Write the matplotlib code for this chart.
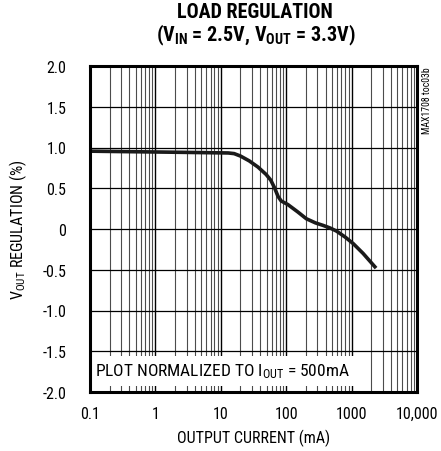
import matplotlib
matplotlib.use("Agg")
import matplotlib.pyplot as plt
from matplotlib import font_manager as fm

names = {f.name for f in fm.fontManager.ttflist}
def pick(cands, default="Liberation Sans"):
    for c in cands:
        if c in names:
            return c
    return default

body_font = pick(["Roboto Condensed", "Archivo Narrow", "PT Sans Narrow", "Barlow Semi Condensed", "Asap Condensed"])
title_font = pick(["Roboto Condensed", "Barlow Condensed", "Archivo Narrow", "Asap Condensed"])
plt.rcParams['font.family'] = [body_font, 'DejaVu Sans']

# data
current_mA = [0.1, 0.3, 1, 3, 8.4, 13, 16, 20, 27.2, 37, 49.2, 58, 66.2, 75, 83.8, 106, 150, 203, 280, 367, 470, 589, 800, 1061, 1500, 2366]
regulation = [0.955, 0.95, 0.945, 0.94, 0.935, 0.933, 0.925, 0.895, 0.836, 0.76, 0.67, 0.6, 0.507, 0.4, 0.344, 0.30, 0.21, 0.126, 0.075, 0.044, 0.012, -0.026, -0.1, -0.18, -0.30, -0.48]
xtick_vals = [0.1, 1, 10, 100, 1000, 10000]
xtick_labels = ["0.1", "1", "10", "100", "1000", "10,000"]
ytick_vals = [2.0, 1.5, 1.0, 0.5, 0, -0.5, -1.0, -1.5, -2.0]
ytick_labels = ["2.0", "1.5", "1.0", "0.5", "0", "-0.5", "-1.0", "-1.5", "-2.0"]

fig = plt.figure(figsize=(4.41, 4.52), dpi=100)
ax = fig.add_axes([90/441, 59/452, 327/441, 326/452])
ax.set_xscale('log')
ax.set_xlim(0.1, 10000)
ax.set_ylim(-2.0, 2.0)

# grid
for dec in [0.1, 1, 10, 100, 1000]:
    for m in range(1, 10):
        v = dec * m
        ax.axvline(v, color='black', lw=1.0 if m == 1 else 0.8, alpha=1.0 if m == 1 else 0.7, zorder=1)
for yv in ytick_vals:
    ax.axhline(yv, color='black', lw=0.9, zorder=1)

ax.plot(current_mA, regulation, color='#1a1a1a', lw=2.6, solid_capstyle='butt', solid_joinstyle='round', zorder=3)

ax.set_xticks(xtick_vals)
ax.set_xticklabels(xtick_labels)
ax.set_xticks([], minor=True)
ax.set_yticks(ytick_vals)
ax.set_yticklabels(ytick_labels)
ax.tick_params(axis='x', length=0, labelsize=11.5, pad=10)
ax.tick_params(axis='y', length=0, labelsize=11.5, pad=17)
for s in ax.spines.values():
    s.set_linewidth(2.2)
    s.set_zorder(5)

ax.set_xlabel("OUTPUT CURRENT (mA)", fontsize=11.5, labelpad=6)
ax.set_ylabel(r"V$\mathregular{_{OUT}}$ REGULATION (%)", fontsize=11.5, labelpad=10)

ax.text(0.118, -1.74, r"PLOT NORMALIZED TO I$\mathregular{_{OUT}}$ = 500mA", fontsize=12.5,
        va='center', ha='left', zorder=4,
        bbox=dict(facecolor='white', edgecolor='none', pad=4))

fig.text(422/441, 1 - 101/452, "MAX1708 toc03b", rotation=90, fontsize=7, ha='left', va='center')

fig.text(255/441, 1 - 13/452, "LOAD REGULATION", fontsize=14.5, fontweight='heavy',
         family=[title_font, 'DejaVu Sans'], ha='center', va='center')
fig.text(256/441, 1 - 35/452, r"(V$\mathregular{_{IN}}$ = 2.5V, V$\mathregular{_{OUT}}$ = 3.3V)", fontsize=14.5,
         fontweight='heavy', family=[title_font, 'DejaVu Sans'], ha='center', va='center')

fig.savefig("out.png", dpi=100)
